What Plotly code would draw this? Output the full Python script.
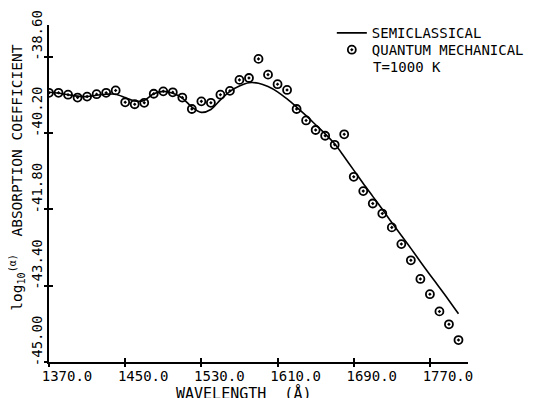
import plotly.graph_objects as go

# Semiclassical curve (solid line)
line_wavelength = [1370, 1380, 1390, 1400, 1410, 1420, 1430, 1440, 1450, 1460,
                   1470, 1480, 1490, 1500, 1510, 1520, 1530, 1540, 1550, 1560,
                   1570, 1580, 1590, 1600, 1610, 1620, 1630, 1640, 1650, 1660,
                   1670, 1680, 1690, 1700, 1710, 1720, 1730, 1740, 1750, 1760,
                   1770, 1780, 1790, 1800]
line_logalpha = [-39.35, -39.37, -39.40, -39.43, -39.44, -39.41, -39.39, -39.39, -39.46, -39.53,
                 -39.52, -39.38, -39.33, -39.37, -39.47, -39.66, -39.77, -39.71, -39.51, -39.33,
                 -39.22, -39.15, -39.16, -39.23, -39.34, -39.49, -39.66, -39.84, -40.03, -40.22,
                 -40.43, -40.70, -40.98, -41.26, -41.53, -41.80, -42.08, -42.35, -42.62, -42.90,
                 -43.17, -43.44, -43.71, -43.99]

# Quantum mechanical points (circles)
qm_wavelength = [1370, 1380, 1390, 1400, 1410, 1420, 1430, 1440, 1450, 1460,
                 1470, 1480, 1490, 1500, 1510, 1520, 1530, 1540, 1550, 1560,
                 1570, 1580, 1590, 1600, 1610, 1620, 1630, 1640, 1650, 1660,
                 1670, 1680, 1690, 1700, 1710, 1720, 1730, 1740, 1750, 1760,
                 1770, 1780, 1790, 1800]
qm_logalpha = [-39.36, -39.36, -39.40, -39.46, -39.44, -39.39, -39.36, -39.31, -39.56, -39.60,
               -39.57, -39.38, -39.33, -39.35, -39.46, -39.70, -39.54, -39.57, -39.40, -39.32,
               -39.09, -39.05, -38.65, -38.98, -39.18, -39.30, -39.70, -39.94, -40.14, -40.26,
               -40.45, -40.23, -41.12, -41.42, -41.68, -41.89, -42.18, -42.53, -42.87, -43.26,
               -43.58, -43.94, -44.21, -44.54]

x_tickvals = [1370, 1450, 1530, 1610, 1690, 1770]
x_ticktext = ["1370.0", "1450.0", "1530.0", "1610.0", "1690.0", "1770.0"]
y_tickvals = [-45.0, -43.4, -41.8, -40.2, -38.6]
y_ticktext = ["-45.00", "-43.40", "-41.80", "-40.20", "-38.60"]

x_range = [1370, 1810]
y_range = [-45.0, -37.94]

FONT = "DejaVu Sans Mono"

fig = go.Figure()
fig.add_trace(go.Scatter(
    x=line_wavelength, y=line_logalpha, mode="lines", name="SEMICLASSICAL",
    line=dict(color="black", width=1.6, shape="spline", smoothing=0.8),
    legend="legend",
))
fig.add_trace(go.Scatter(
    x=qm_wavelength, y=qm_logalpha, mode="markers", name="QUANTUM MECHANICAL",
    marker=dict(symbol="circle-open-dot", size=8, color="black", line=dict(width=1.8, color="black")),
    legend="legend2",
))
# helper trace for the outer half of the crossing tick marks
fig.add_trace(go.Scatter(x=[], y=[], xaxis="x2", yaxis="y2", showlegend=False, hoverinfo="skip"))

legend_style = dict(xanchor="left", yanchor="top", bgcolor="rgba(0,0,0,0)",
                    font=dict(family=FONT, size=14, color="black"), itemwidth=30)

fig.update_layout(
    width=529, height=390,
    margin=dict(l=40.5, r=69, t=17, b=36, autoexpand=False),
    paper_bgcolor="white", plot_bgcolor="white",
    font=dict(family=FONT, size=14, color="black"),
    showlegend=True,
    legend=dict(x=0.675, y=1.023, **legend_style),
    legend2=dict(x=0.675, y=0.973, **legend_style),
    xaxis=dict(
        range=x_range, tickmode="array", tickvals=x_tickvals, ticktext=x_ticktext,
        showgrid=False, zeroline=False, showline=True, linecolor="black", linewidth=1.5,
        ticks="inside", ticklen=4, tickwidth=1.5, tickcolor="black",
        ticklabelshift=18, ticklabeloverflow="allow", tickfont=dict(family=FONT, size=14),
        automargin=False,
    ),
    yaxis=dict(
        range=y_range, tickmode="array", tickvals=y_tickvals, ticktext=y_ticktext,
        showgrid=False, zeroline=False, showline=True, linecolor="black", linewidth=1.5,
        ticks="inside", ticklen=4, tickwidth=1.5, tickcolor="black",
        tickangle=-90, ticklabelshift=-19, ticklabeloverflow="allow",
        tickfont=dict(family=FONT, size=14),
        automargin=False,
    ),
    xaxis2=dict(
        range=x_range, overlaying="x", anchor="y2", tickmode="array", tickvals=x_tickvals,
        showticklabels=False, showgrid=False, zeroline=False, showline=False,
        ticks="outside", ticklen=4, tickwidth=1.5, tickcolor="black",
    ),
    yaxis2=dict(
        range=y_range, overlaying="y", anchor="x2", tickmode="array", tickvals=y_tickvals,
        showticklabels=False, showgrid=False, zeroline=False, showline=False,
        ticks="outside", ticklen=4, tickwidth=1.5, tickcolor="black",
    ),
    annotations=[
        dict(text="T=1000 K", x=0.768, y=0.875, xref="paper", yref="paper",
             xanchor="left", yanchor="middle", showarrow=False,
             font=dict(family=FONT, size=14, color="black")),
        dict(text="WAVELENGTH  (Å)", x=0.465, y=-0.092, xref="paper", yref="paper",
             xanchor="center", yanchor="middle", showarrow=False,
             font=dict(family=FONT, size=15, color="black")),
        dict(text="log<sub>10</sub><sup>(α)</sup>  ABSORPTION COEFFICIENT",
             x=-0.077, y=0.546, xref="paper", yref="paper", textangle=-90,
             xanchor="center", yanchor="middle", showarrow=False,
             font=dict(family=FONT, size=14.5, color="black")),
    ],
)

fig.write_html("out.html")
